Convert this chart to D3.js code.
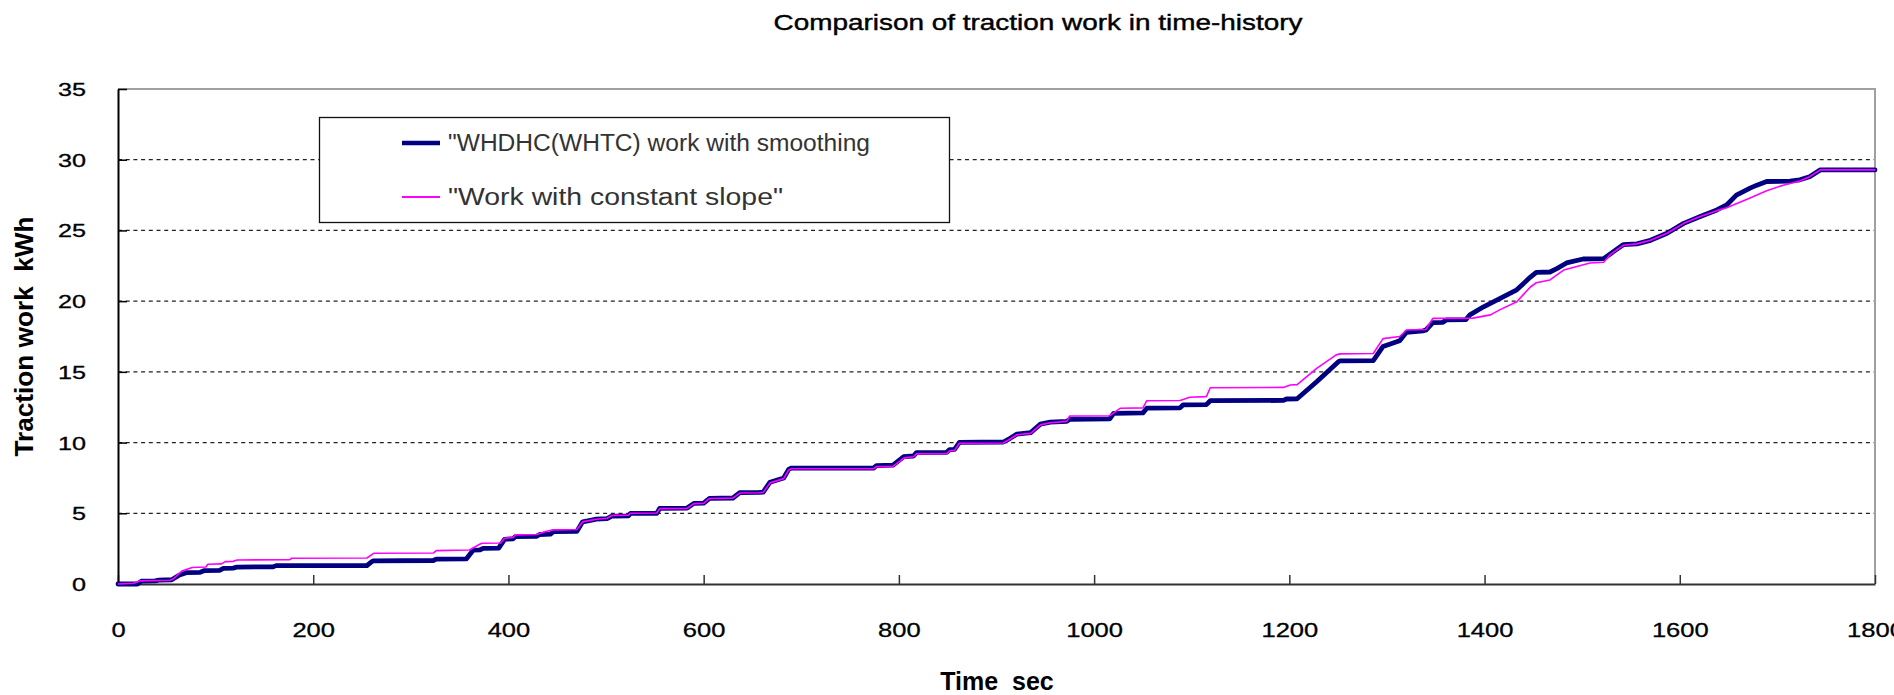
<!DOCTYPE html>
<html>
<head>
<meta charset="utf-8">
<script src="https://cdn.jsdelivr.net/npm/d3@7"></script>
<style>
  html, body { margin: 0; padding: 0; background: #fff; }
  svg { display: block; font-family: "Liberation Sans", Arial, sans-serif; }
  text { white-space: pre; }
</style>
</head>
<body>
<svg id="chart" width="1894" height="695"></svg>
<script>
const chartTitle = "Comparison of traction work in time-history";
const xTitle = "Time  sec";
const yTitle = "Traction work  kWh";
const seriesNames = ["\"WHDHC(WHTC) work with smoothing", "\"Work with constant slope\""];
const xTicks = [0, 200, 400, 600, 800, 1000, 1200, 1400, 1600, 1800];
const yTicks = [0, 5, 10, 15, 20, 25, 30, 35];

// Series 1: WHDHC(WHTC) work with smoothing  [time s, work kWh]
const smoothTime = [0,20,24,38,42,55,63,70,84,88,104,108,118,122,159,162,255,260,262,323,326,357,364,371,374,390,396,405,407,429,432,443,446,470,476,484,490,501,506,523,525,552,555,583,590,600,606,630,637,657,661,668,682,687,690,774,777,794,805,815,818,849,852,857,862,907,914,921,935,945,955,972,975,1016,1020,1050,1054,1088,1091,1115,1119,1194,1197,1208,1228,1250,1252,1286,1296,1313,1320,1337,1340,1347,1357,1361,1381,1385,1399,1416,1433,1447,1453,1467,1474,1484,1501,1522,1532,1542,1556,1570,1587,1604,1621,1638,1648,1658,1672,1679,1689,1713,1723,1733,1744,1800];
const smoothWork = [0,0,0.2,0.22,0.28,0.3,0.64,0.8,0.82,0.94,0.96,1.1,1.12,1.2,1.22,1.3,1.3,1.58,1.64,1.66,1.76,1.78,2.4,2.42,2.52,2.54,3.16,3.2,3.35,3.37,3.5,3.52,3.7,3.72,4.4,4.5,4.58,4.62,4.8,4.82,4.99,5.0,5.35,5.37,5.7,5.72,6.06,6.08,6.46,6.48,6.5,7.2,7.5,8.1,8.2,8.2,8.37,8.4,9.0,9.05,9.29,9.31,9.5,9.52,10.02,10.04,10.3,10.6,10.7,11.3,11.45,11.5,11.65,11.67,12.07,12.1,12.43,12.45,12.66,12.68,12.96,12.98,13.08,13.1,14.3,15.7,15.77,15.8,16.8,17.2,17.8,17.9,17.96,18.48,18.5,18.67,18.7,19.03,19.6,20.2,20.8,21.7,22.04,22.06,22.3,22.7,22.98,23.0,23.5,23.99,24.05,24.3,24.8,25.5,25.98,26.45,26.8,27.5,27.99,28.2,28.46,28.48,28.58,28.8,29.28,29.28];

// Series 2: Work with constant slope  [time s, work kWh]
const slopeTime = [0,16,22,53,56,66,76,90,92,106,110,118,122,176,178,255,262,323,326,360,371,373,392,396,405,407,429,435,446,470,476,484,490,501,506,523,525,552,555,583,590,600,606,630,637,657,661,668,682,687,690,774,777,794,805,815,818,849,852,857,862,907,914,921,935,945,955,972,975,1016,1027,1050,1054,1088,1098,1115,1119,1194,1201,1208,1228,1248,1252,1286,1296,1313,1320,1340,1347,1388,1406,1416,1433,1447,1453,1467,1481,1508,1522,1529,1542,1556,1570,1587,1604,1621,1638,1648,1672,1689,1706,1723,1733,1744,1800];
const slopeWork = [0,0.05,0.22,0.26,0.33,0.94,1.17,1.2,1.4,1.42,1.58,1.6,1.7,1.72,1.82,1.84,2.17,2.19,2.36,2.4,2.83,2.88,2.9,3.24,3.3,3.47,3.5,3.65,3.83,3.85,4.4,4.5,4.58,4.65,4.85,4.87,5.0,5.02,5.33,5.35,5.68,5.7,6.05,6.07,6.43,6.45,6.48,7.15,7.45,8.05,8.15,8.15,8.3,8.32,8.9,9.0,9.2,9.22,9.42,9.45,9.95,9.97,10.25,10.55,10.65,11.25,11.4,11.5,11.88,11.9,12.43,12.45,12.96,12.98,13.2,13.25,13.88,13.9,14.07,14.1,15.25,16.2,16.27,16.3,17.35,17.5,17.96,18.0,18.78,18.8,19.03,19.4,19.96,21.0,21.3,21.5,22.2,22.7,22.75,23.3,23.95,24.05,24.3,24.8,25.5,25.98,26.4,26.6,27.3,27.8,28.2,28.5,28.8,29.28,29.28];

const svg = d3.select("#chart");
svg.append("rect").attr("width", 1894).attr("height", 695).attr("fill", "#fff");

const x = d3.scaleLinear().domain([0, 1800]).range([118, 1875]);
const y = d3.scaleLinear().domain([0, 35]).range([584, 89]);

// Title
svg.append("text")
  .attr("x", 1038).attr("y", 30)
  .attr("text-anchor", "middle")
  .attr("font-size", 22).attr("fill", "#000")
  .attr("stroke", "#000").attr("stroke-width", 0.4)
  .attr("textLength", 529).attr("lengthAdjust", "spacingAndGlyphs")
  .text(chartTitle);

// Gridlines (dashed)
svg.append("g").selectAll("line")
  .data(yTicks.filter(d => d > 0 && d < 35))
  .join("line")
  .attr("x1", x(0)).attr("x2", x(1800))
  .attr("y1", d => y(d)).attr("y2", d => y(d))
  .attr("stroke", "#222").attr("stroke-width", 1.2)
  .attr("stroke-dasharray", "4,3.7");

// Top and right border (gray)
svg.append("path")
  .attr("d", `M${x(0)},${y(35)}H${x(1800)}V${y(0)}`)
  .attr("fill", "none").attr("stroke", "#a0a0a0").attr("stroke-width", 2);

// Axes
const xAxis = d3.axisBottom(x).tickValues(xTicks).tickSizeInner(-9).tickSizeOuter(0).tickPadding(0).tickFormat(d3.format("d"));
const gx = svg.append("g").attr("transform", `translate(0,${y(0)})`).call(xAxis);
gx.select(".domain").attr("stroke", "#333").attr("stroke-width", 2);
gx.selectAll(".tick line").attr("stroke", "#333").attr("stroke-width", 1.5);
gx.selectAll(".tick text")
  .attr("y", 53).attr("dy", null)
  .attr("font-size", 20).attr("fill", "#000")
  .attr("stroke", "#000").attr("stroke-width", 0.3)
  .attr("font-family", "Liberation Sans, Arial, sans-serif")
  .attr("textLength", d => String(d).length * 14.2)
  .attr("lengthAdjust", "spacingAndGlyphs");

const yAxis = d3.axisLeft(y).tickValues(yTicks).tickSizeInner(-9).tickSizeOuter(0).tickPadding(0);
const gy = svg.append("g").attr("transform", `translate(${x(0)},0)`).call(yAxis);
gy.select(".domain").attr("stroke", "#000").attr("stroke-width", 2);
gy.selectAll(".tick line").attr("stroke", "#000").attr("stroke-width", 1.5);
gy.selectAll(".tick text")
  .attr("x", -32).attr("dy", "0.36em")
  .attr("font-size", 18).attr("fill", "#000")
  .attr("stroke", "#000").attr("stroke-width", 0.3)
  .attr("font-family", "Liberation Sans, Arial, sans-serif")
  .attr("textLength", d => String(d).length * 14)
  .attr("lengthAdjust", "spacingAndGlyphs");

// Axis titles
svg.append("text")
  .attr("x", 997).attr("y", 690)
  .attr("text-anchor", "middle")
  .attr("font-size", 25).attr("font-weight", "bold").attr("fill", "#000")
  .text(xTitle);

svg.append("text")
  .attr("transform", `translate(33,${(y(0) + y(35)) / 2}) rotate(-90)`)
  .attr("text-anchor", "middle")
  .attr("font-size", 25).attr("font-weight", "bold").attr("fill", "#000")
  .attr("textLength", 240).attr("lengthAdjust", "spacingAndGlyphs")
  .text(yTitle);

// Lines
const line = d3.line().x(d => x(d[0])).y(d => y(d[1]));
const smoothData = smoothTime.map((t, i) => [t, smoothWork[i]]);
const slopeData = slopeTime.map((t, i) => [t, slopeWork[i]]);

svg.append("path").datum(smoothData)
  .attr("d", line).attr("fill", "none")
  .attr("stroke", "#000080").attr("stroke-width", 4.8)
  .attr("stroke-linejoin", "round").attr("stroke-linecap", "round");

svg.append("path").datum(slopeData)
  .attr("d", line).attr("fill", "none")
  .attr("stroke", "#ff00ff").attr("stroke-width", 1.6)
  .attr("stroke-linejoin", "round");

// Legend
const lg = svg.append("g");
lg.append("rect")
  .attr("x", 319.5).attr("y", 117.5).attr("width", 630).attr("height", 105)
  .attr("fill", "#fff").attr("stroke", "#111").attr("stroke-width", 1.3);
const legendColors = ["#000080", "#ff00ff"];
const legendWidths = [4.5, 1.8];
const legendY = [143, 197];
const legendTextLen = [422, 335];
seriesNames.forEach((name, i) => {
  lg.append("line")
    .attr("x1", 402).attr("x2", 440)
    .attr("y1", legendY[i]).attr("y2", legendY[i])
    .attr("stroke", legendColors[i]).attr("stroke-width", legendWidths[i]);
  lg.append("text")
    .attr("x", 448).attr("y", legendY[i])
    .attr("dy", "0.36em")
    .attr("font-size", 23).attr("fill", "#333")
    .attr("textLength", legendTextLen[i]).attr("lengthAdjust", "spacingAndGlyphs")
    .text(name);
});
</script>
</body>
</html>
